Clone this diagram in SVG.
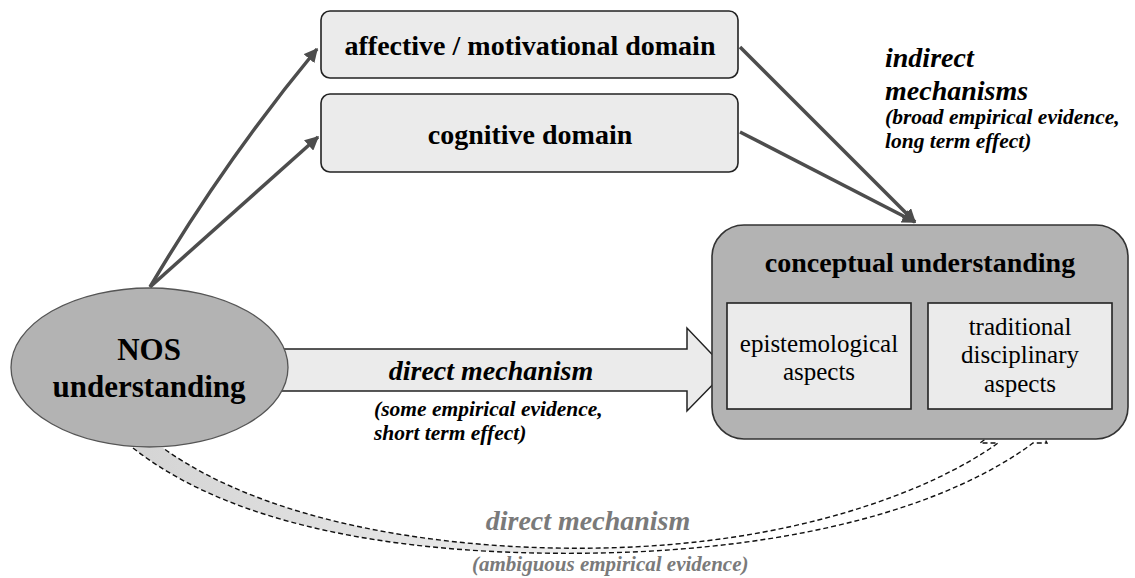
<svg xmlns="http://www.w3.org/2000/svg" width="1135" height="578" viewBox="0 0 1135 578">
<style>
.lbox{fill:#ebebeb;stroke:#222;stroke-width:1.6}
.dbox{fill:#b3b3b3;stroke:#333;stroke-width:1.6}
.t{font-family:"Liberation Serif","Times New Roman",serif;fill:#000}
.b{font-weight:bold}
.bi{font-weight:bold;font-style:italic}
.gray{fill:#7a7a7a}
.conn{stroke:#4d4d4d;stroke-width:3.5;fill:none}
.dash{stroke:#111;stroke-width:1.4;stroke-dasharray:5 3;fill:none}
</style>
<defs>
<marker id="ah" viewBox="0 0 10 10" refX="9" refY="5" markerWidth="4" markerHeight="4" orient="auto" markerUnits="strokeWidth">
<path d="M0,0 L10,5 L0,10 z" fill="#4d4d4d"/>
</marker>
<linearGradient id="fade" x1="130" y1="0" x2="1050" y2="0" gradientUnits="userSpaceOnUse">
<stop offset="0" stop-color="#d4d4d4"/>
<stop offset="0.45" stop-color="#ececec"/>
<stop offset="0.6" stop-color="#ffffff"/>
<stop offset="1" stop-color="#ffffff"/>
</linearGradient>
</defs>

<g id="connectors">
<path class="conn" d="M150,287 Q225,160 317,49" marker-end="url(#ah)"/>
<path class="conn" d="M150,287 L318,137" marker-end="url(#ah)"/>
<path class="conn" d="M740,47 L915,222" marker-end="url(#ah)"/>
<path class="conn" d="M740,132 L915,222" marker-end="url(#ah)"/>
<g id="direct-arrow">
<polygon points="270,349 687,349 687,328 727,370 687,411 687,391 270,391" fill="#ebebeb" stroke="#222" stroke-width="1.5"/>
</g>
<g id="dashed-arrow">
<path d="M133,448 C250,540 450,556 600,553 C800,549 950,505 1033,443 L1047,443 L1028,408 L980,443 L998,443 C930,492 790,545 600,548 C450,551 270,525 163,448 Z" fill="url(#fade)" stroke="none"/>
<path class="dash" d="M133,448 C250,540 450,556 600,553 C800,549 950,505 1033,443 L1047,443 L1028,408 L980,443 L998,443 C930,492 790,545 600,548 C450,551 270,525 163,448"/>
</g>
</g>

<g id="affective">
<rect class="lbox" x="321" y="11" width="417" height="67" rx="9"/>
<text class="t b" x="530" y="55" font-size="28" text-anchor="middle">affective / motivational domain</text>
</g>
<g id="cognitive">
<rect class="lbox" x="321" y="94" width="417" height="78" rx="9"/>
<text class="t b" x="530" y="144" font-size="28" text-anchor="middle">cognitive domain</text>
</g>

<g id="nos">
<ellipse cx="149.5" cy="367.5" rx="138.5" ry="79.5" fill="#b3b3b3" stroke="#555" stroke-width="1.3"/>
<text class="t b" x="149" y="360" font-size="31" text-anchor="middle">NOS</text>
<text class="t b" x="149" y="397" font-size="31" text-anchor="middle">understanding</text>
</g>

<g id="conceptual">
<rect class="dbox" x="712" y="225" width="416" height="214" rx="32"/>
<text class="t b" x="920" y="272" font-size="28" text-anchor="middle">conceptual understanding</text>
</g>
<g id="epistemological">
<rect class="lbox" x="727" y="303" width="184" height="106"/>
<text class="t" x="819" y="352" font-size="25" text-anchor="middle">epistemological</text>
<text class="t" x="819" y="380" font-size="25" text-anchor="middle">aspects</text>
</g>
<g id="traditional">
<rect class="lbox" x="928" y="303" width="184" height="106"/>
<text class="t" x="1020" y="335" font-size="25" text-anchor="middle">traditional</text>
<text class="t" x="1020" y="363" font-size="25" text-anchor="middle">disciplinary</text>
<text class="t" x="1020" y="392" font-size="25" text-anchor="middle">aspects</text>
</g>

<g id="labels">
<text class="t bi" x="491" y="380" font-size="28" text-anchor="middle">direct mechanism</text>
<text class="t bi" x="374" y="416" font-size="21.5">(some empirical evidence,</text>
<text class="t bi" x="374" y="440" font-size="21.5">short term effect)</text>
<text class="t bi" x="885" y="67" font-size="28">indirect</text>
<text class="t bi" x="885" y="100" font-size="28">mechanisms</text>
<text class="t bi" x="885" y="124" font-size="21.5">(broad empirical evidence,</text>
<text class="t bi" x="885" y="148" font-size="21.5">long term effect)</text>
<text class="t bi gray" x="588" y="530" font-size="28" text-anchor="middle">direct mechanism</text>
<text class="t bi gray" x="472" y="571" font-size="21">(ambiguous empirical evidence)</text>
</g>
</svg>
